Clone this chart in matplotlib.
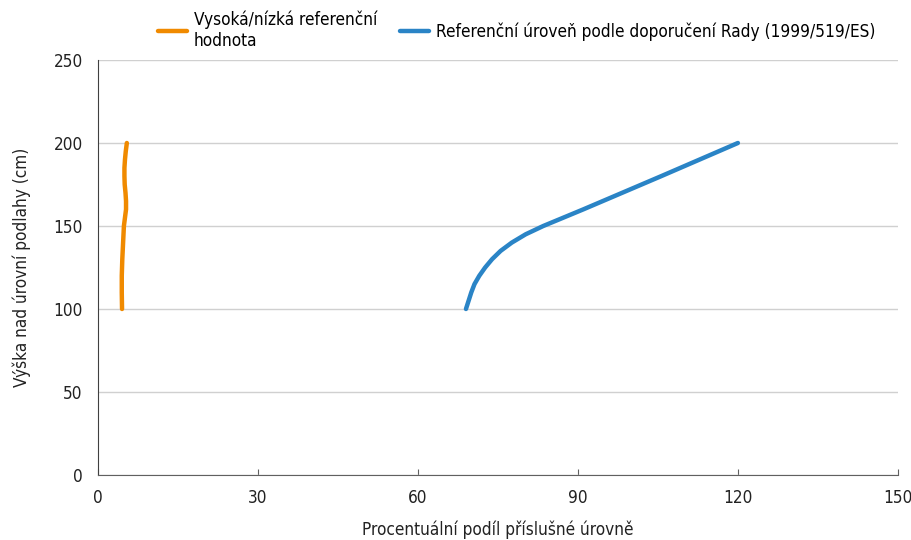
import matplotlib

matplotlib.use("Agg")
import matplotlib.pyplot as plt

# orange: high/low reference value, x = percentage, y = height (cm)
orange_pct = [4.5, 4.45, 4.45, 4.55, 4.7, 4.85, 5.05, 5.25, 5.25, 5.15, 5.0,
              4.95, 4.95, 5.05, 5.2, 5.4]
orange_height = [100, 110, 120, 130, 140, 150, 155, 160, 165, 170, 175,
                 180, 185, 190, 195, 200]

# blue: reference level per Council Recommendation
blue_pct = [69.0, 69.5, 70.0, 70.6, 71.5, 72.6, 73.9, 75.5, 77.6, 80.2, 83.5,
            91.0, 98.3, 105.6, 112.8, 120.0]
blue_height = [100, 105, 110, 115, 120, 125, 130, 135, 140, 145, 150,
               160, 170, 180, 190, 200]

x_ticks = [0, 30, 60, 90, 120, 150]
y_ticks = [0, 50, 100, 150, 200, 250]

plt.rcParams["font.family"] = ["DejaVu Sans"]
plt.rcParams["font.stretch"] = "condensed"
plt.rcParams["font.size"] = 12.3

fig = plt.figure(figsize=(9.12, 5.4), dpi=100)
ax = fig.add_axes([0.1075, 0.1204, 0.877, 0.7685])

ax.plot(orange_pct, orange_height, color="#F08A00", lw=3.2,
        solid_capstyle="round", label="Vysoká/nízká referenční\nhodnota")
ax.plot(blue_pct, blue_height, color="#2A84C6", lw=3.2,
        solid_capstyle="round",
        label="Referenční úroveň podle doporučení Rady (1999/519/ES)")

ax.set_xlim(0, 150)
ax.set_ylim(0, 250)
ax.set_xticks(x_ticks)
ax.set_yticks(y_ticks)
ax.grid(axis="y", color="#d0d0d0", lw=1)
ax.set_axisbelow(True)
for side in ["top", "right"]:
    ax.spines[side].set_visible(False)
ax.spines["left"].set_color("#404040")
ax.spines["bottom"].set_color("#606060")
ax.tick_params(axis="y", length=0, pad=11, colors="#222222")
ax.tick_params(axis="x", direction="in", length=4, color="#606060",
               pad=10, colors="#222222")

ax.set_xlabel("Procentuální podíl příslušné úrovně", labelpad=10, color="#222222")
ax.set_ylabel("Výška nad úrovní podlahy (cm)", labelpad=16, color="#222222")

ax.legend(loc="upper left", bbox_to_anchor=(0.066, 1.135), ncol=2, frameon=False,
          handlelength=1.7, handletextpad=0.4, columnspacing=1.35,
          borderaxespad=0, labelspacing=0.3)

fig.savefig("out.png", dpi=100)
